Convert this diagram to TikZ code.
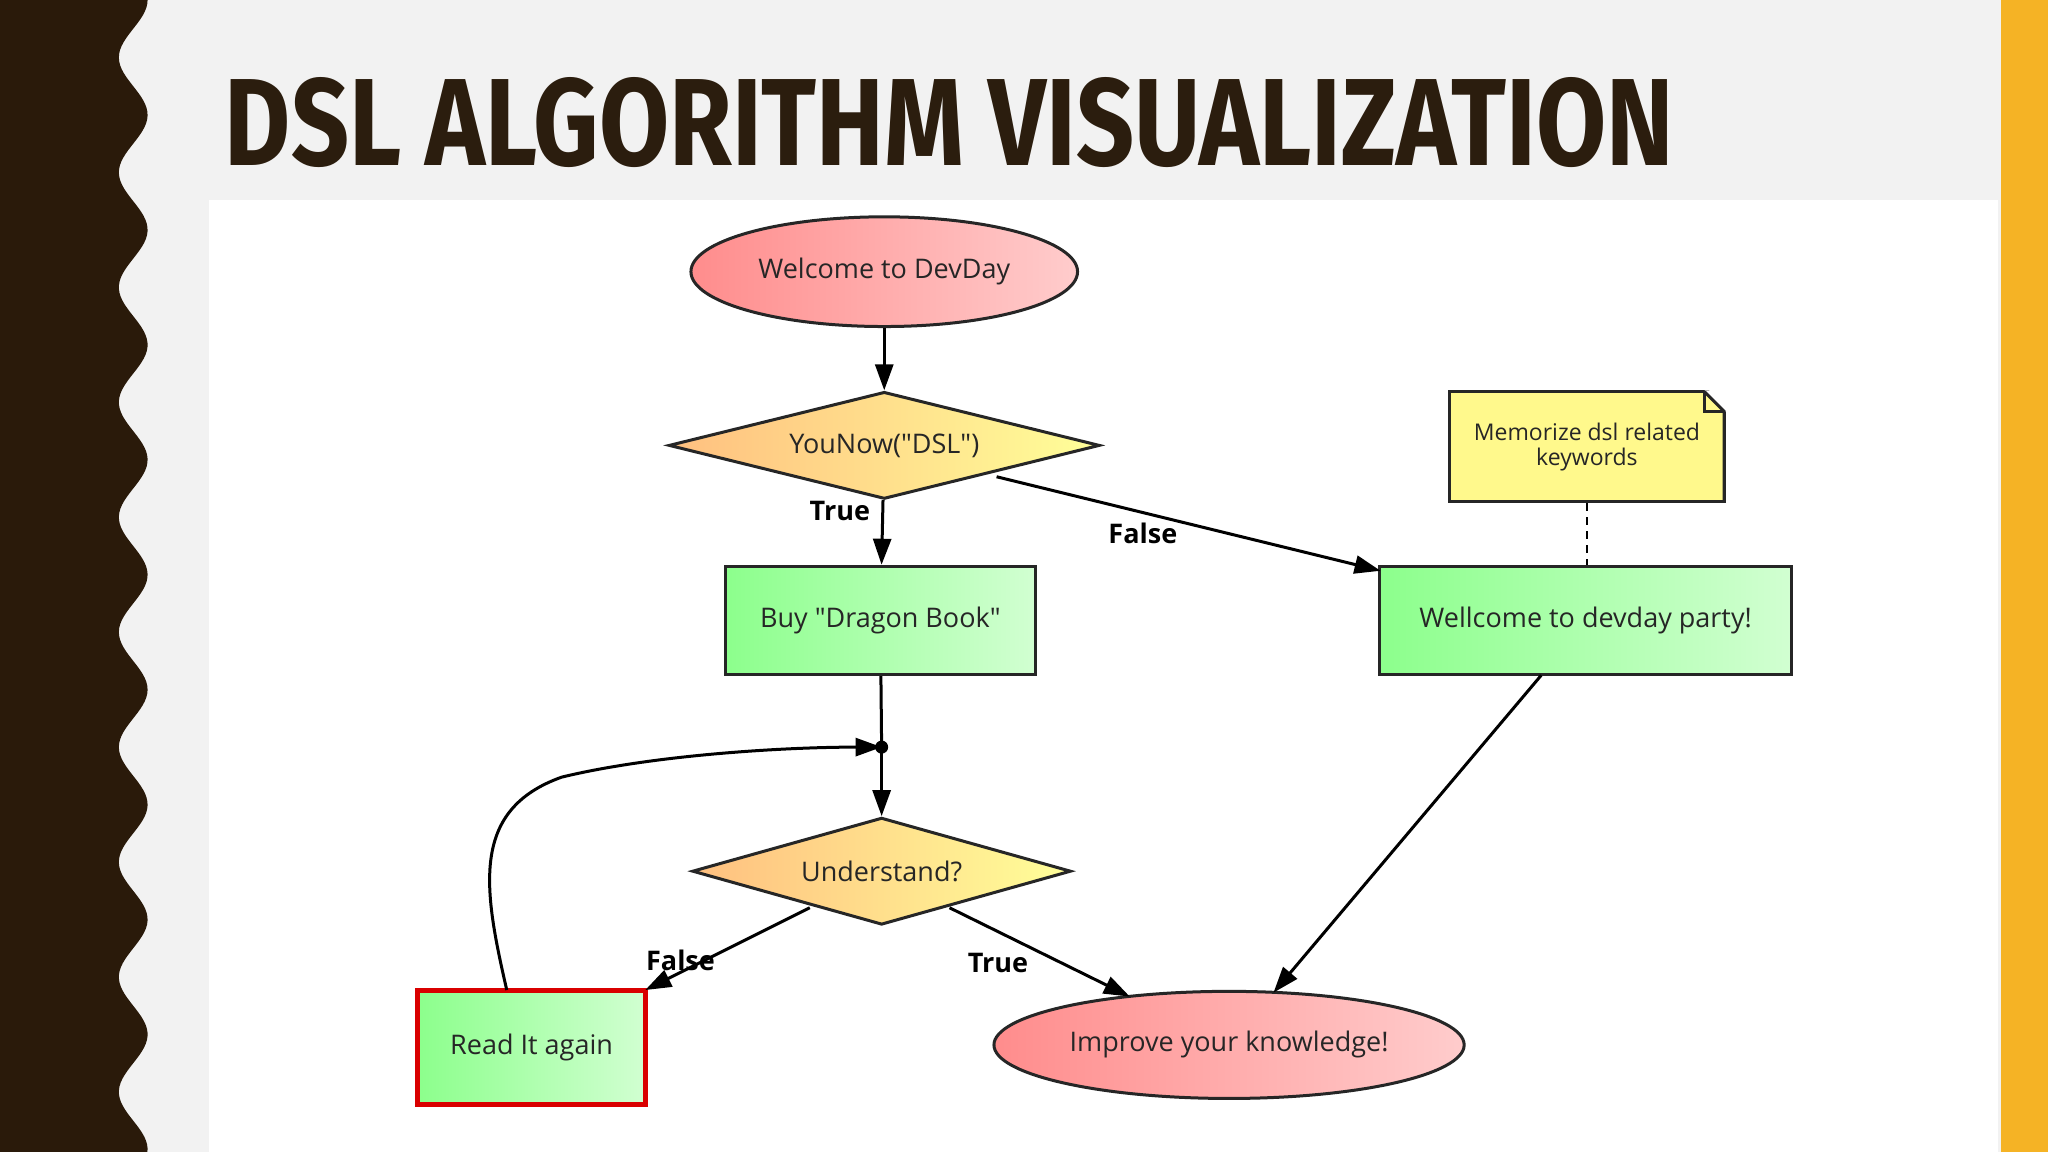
\documentclass[tikz,border=0pt]{standalone}
\usepackage{fontspec}
\setmainfont{Open Sans}
\newfontfamily\titlefont{Fira Sans}
\usetikzlibrary{shapes.geometric,shapes.misc,arrows.meta}
\definecolor{brn}{HTML}{2A1A0A}
\definecolor{ttl}{HTML}{2B1D0E}
\definecolor{gold}{HTML}{F5B325}
\newcommand{\qq}{\textquotedbl}
\begin{document}
\begin{tikzpicture}[x=1.306pt,y=-1.306pt,
  txt/.style={font=\fontsize{27}{30}\selectfont,text=black!85},
  ell/.style={ellipse,draw=black!85,line width=3pt,left color=red!45,right color=red!20,txt,inner sep=0pt},
  dia/.style={diamond,draw=black!85,line width=3pt,left color=orange!50,right color=yellow!40,txt,aspect=4,inner sep=0pt},
  box/.style={rectangle,draw=black!85,line width=3pt,left color=green!45,right color=green!18,txt,inner sep=0pt},
  ar/.style={draw=black,line width=3pt,-{Triangle[length=26pt,width=18pt]}},
  lbl/.style={font=\bfseries\fontsize{27}{30}\selectfont}]
\useasboundingbox (0,0) rectangle (1568,882);
\fill[gray!10] (0,0) rectangle (1568,882);
\fill[gold] (1532,0) rectangle (1568,882);
\fill[white] (160,153) rectangle (1530,882);
\fill[brn] (0,0) -- plot[domain=0:882,samples=300] ({102+11*cos(\x/88*360)},\x) -- (0,882) -- cycle;
\node[anchor=base west,inner sep=0pt,text=ttl,font=\titlefont\bfseries\fontsize{124}{126}\selectfont] (title) at (172,127) {\scalebox{0.82}[1]{DSL ALGORITHM VISUALIZATION}};

\node[ell,minimum width=296*1.306pt,minimum height=84*1.306pt] (welcome) at (677,208) {Welcome to DevDay};
\node[dia,minimum width=330*1.306pt,minimum height=82*1.306pt] (younow) at (677,341) {YouNow(\qq DSL\qq)};
\node[box,minimum width=237*1.306pt,minimum height=83*1.306pt] (buy) at (674,475) {Buy \qq Dragon Book\qq};
\node[box,minimum width=315*1.306pt,minimum height=83*1.306pt] (party) at (1214,475) {Wellcome to devday party!};
\node[draw=black!85,line width=3pt,fill=yellow!45,minimum width=210*1.306pt,minimum height=84*1.306pt,align=center,
  font=\fontsize{23}{25}\selectfont,text=black!85,inner sep=0pt,
  shape=rectangle] (note) at (1215,342) {Memorize dsl related\\keywords};
\fill[white] (1305,299) -- (1322,316) -- (1322,298) -- cycle;
\draw[black!85,line width=3pt] (1305,300) -- (1320,315) -- (1320,384);
\draw[black!85,line width=2.5pt] (1305,300) -- (1305,315) -- (1320,315);
\coordinate (dot) at (675,572);
\fill (dot) circle (5);
\node[dia,minimum width=290*1.306pt,minimum height=82*1.306pt] (under) at (675,667) {Understand?};
\node[box,draw=red!85!black,line width=5pt,minimum width=174*1.306pt,minimum height=88*1.306pt] (read) at (407,802) {Read It again};
\node[ell,minimum width=360*1.306pt,minimum height=82*1.306pt] (improve) at (941,800) {Improve your knowledge!};

\draw[ar] (welcome) -- (younow);
\draw[ar] (younow) -- (buy);
\node[lbl] (ltrue1) at (643,391) {True};
\coordinate (yn1) at (763,365);
\draw[ar] (yn1) -- (1057,437);
\node[lbl] (lfalse1) at (875,408) {False};
\draw[line width=3pt] (buy) -- (dot);
\draw[ar] (dot) -- (under);
\coordinate (u1) at (620,695);
\draw[ar] (u1) -- (494,758);
\node[lbl] (lfalse2) at (521,735) {False};
\coordinate (u2) at (727,695);
\draw[ar] (u2) -- (865,763);
\node[lbl] (ltrue2) at (764,737) {True};
\coordinate (p1) at (1180,517);
\draw[ar] (p1) -- (975,760);
\coordinate (r1) at (388,758);
\draw[ar] (r1) .. controls (370,680) and (360,620) .. (430,595) .. controls (500,578) and (600,572) .. (dot);
\draw[line width=2.5pt,dash pattern=on 8pt off 6pt] (note.south) -- (note.south|-party.north);
\end{tikzpicture}
\end{document}
